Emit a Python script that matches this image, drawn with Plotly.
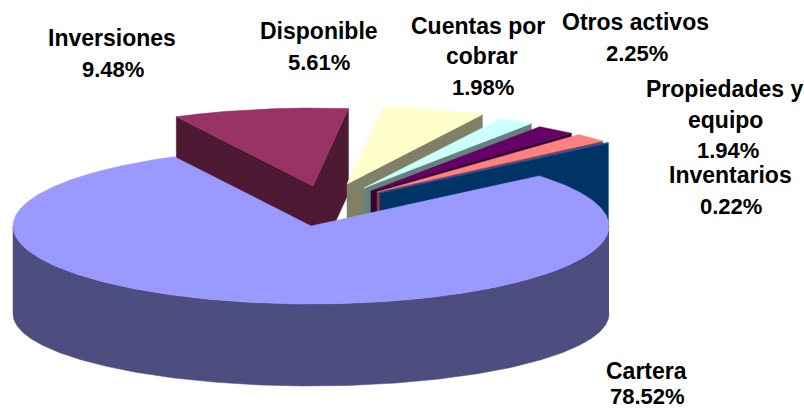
import numpy as np
import plotly.graph_objects as go

# slices, clockwise starting after the big one
categories = ["Inversiones", "Disponible", "Cuentas por cobrar", "Otros activos",
              "Propiedades y equipo", "Inventarios", "Cartera"]
values = [9.48, 5.61, 1.98, 2.25, 1.94, 0.22, 78.52]

top_colors = ["#993366", "#FFFFCC", "#CCFFFF", "#660066", "#FF8080", "#0066CC", "#9999FF"]
side_colors = ["#4D1933", "#808066", "#668080", "#330033", "#804040", "#003366", "#4D4D80"]

# how far each slice is pulled out of the pie (pixels)
pull_x = [2, 36, 53, 60, 66, 69, 0]
pull_y = [-40, -42, -38, -35, -34, -33, 0]

# label lines: (text, centre x, centre y)
label_lines = [
    ("Inversiones", 112, 38), ("9.48%", 113, 69),
    ("Disponible", 319, 31), ("5.61%", 319, 62),
    ("Cuentas por", 478, 26), ("cobrar", 482, 56), ("1.98%", 483, 87),
    ("Otros activos", 635, 22), ("2.25%", 637, 53),
    ("Propiedades y", 724, 89), ("equipo", 725, 120), ("1.94%", 728, 150),
    ("Inventarios", 730, 175), ("0.22%", 731, 206),
    ("Cartera", 646, 371), ("78.52%", 647, 396),
]

cx, cy = 311, 226
rx, ry = 298, 78
depth = 85
start_angle = 117.3

fig = go.Figure()


def poly(xs, ys, color):
    fig.add_trace(go.Scatter(x=xs, y=ys, mode="lines", fill="toself", fillcolor=color,
                             line=dict(color=color, width=0.5), hoverinfo="skip",
                             showlegend=False))


angle = start_angle
for i in range(len(values)):
    a0 = angle
    a1 = angle - values[i] * 3.6
    angle = a1
    ax = cx + pull_x[i]
    ay = cy + pull_y[i]
    t = np.radians(np.linspace(a0, a1, 400))
    rim_x = ax + rx * np.cos(t)
    rim_y = ay - ry * np.sin(t)

    if categories[i] == "Cartera":
        # outer side, bottom ellipse is a bit flatter (perspective)
        s = np.radians(np.linspace(0, -180, 300))
        xs = np.concatenate([cx + rx * np.cos(s), (cx + rx * np.cos(s))[::-1]])
        ys = np.concatenate([cy - ry * np.sin(s), (cy + 88 - 72 * np.sin(s))[::-1]])
        poly(xs, ys, side_colors[i])
    else:
        # cut walls, the left one only faces us when it points backwards-left
        if np.cos(np.radians(a0)) < 0:
            poly([ax, rim_x[0], rim_x[0], ax, ax],
                 [ay, rim_y[0], rim_y[0] + depth, ay + depth, ay], side_colors[i])
        poly([ax, rim_x[-1], rim_x[-1], ax, ax],
             [ay, rim_y[-1], rim_y[-1] + depth, ay + depth, ay], side_colors[i])

    poly(np.concatenate([[ax], rim_x, [ax]]), np.concatenate([[ay], rim_y, [ay]]), top_colors[i])

annotations = []
for text, x, y in label_lines:
    # words in the original are letter spaced, a point more gets the same width
    size = 22 if text.endswith("%") else 23
    annotations.append(dict(x=x, y=y, xref="x", yref="y", text="<b>" + text + "</b>",
                            showarrow=False, xanchor="center", yanchor="middle",
                            font=dict(family="Liberation Sans", size=size, color="#000000")))

fig.update_layout(
    width=804, height=408, margin=dict(l=0, r=0, t=0, b=0),
    paper_bgcolor="white", plot_bgcolor="white",
    xaxis=dict(range=[0, 804], visible=False, fixedrange=True),
    yaxis=dict(range=[408, 0], visible=False, fixedrange=True),
    annotations=annotations,
)

# page has a default body margin, drop it
fig.write_html("out.html", post_script="document.body.style.margin='0';",
               config=dict(displayModeBar=False))
